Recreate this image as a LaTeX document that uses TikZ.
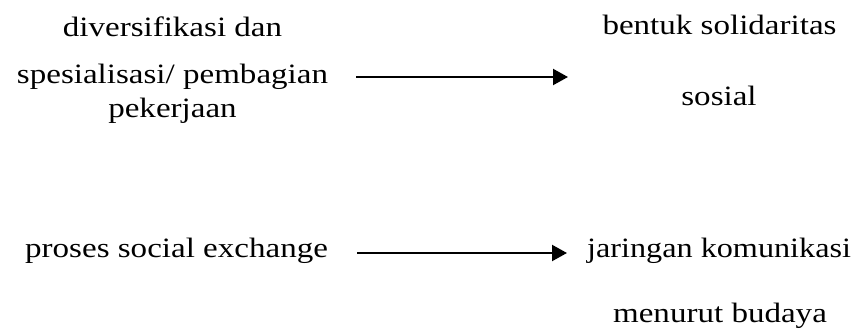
\documentclass[tikz,border=0pt]{standalone}
\usepackage{fontspec}
\setmainfont{Liberation Serif}
\usetikzlibrary{arrows.meta}
\newcommand{\wtxt}[1]{\scalebox{1.18}[1]{#1}}
\begin{document}
\begin{tikzpicture}[x=1pt,y=1pt,
  lbl/.style={inner sep=0pt,anchor=base,font=\fontsize{28}{34}\selectfont},
  lblw/.style={lbl,anchor=base west},
  conn/.style={line width=2.2pt,-{Triangle[length=15pt,width=16pt]}}]
\useasboundingbox (0,0) rectangle (856,330);
\node[lbl] (a1) at (172.5,293) {\wtxt{diversifikasi dan}};
\node[lbl] (a2) at (172.5,247) {\wtxt{spesialisasi/ pembagian}};
\node[lbl] (a3) at (172.5,213) {\wtxt{pekerjaan}};
\node[lbl] (b1) at (719.5,295) {\wtxt{bentuk solidaritas}};
\node[lbl] (b2) at (719,225) {\wtxt{sosial}};
\node[lblw] (c1) at (25,73) {\wtxt{proses social exchange}};
\node[lblw] (d1) at (587,73) {\scalebox{1.15}[1]{jaringan komunikasi}};
\node[lbl] (d2) at (720,8) {\wtxt{menurut budaya}};
\coordinate (s1) at (356,253);
\coordinate (e1) at (568,253);
\coordinate (s2) at (357,77);
\coordinate (e2) at (567,77);
\draw[conn] (s1) -- (e1);
\draw[conn] (s2) -- (e2);
\end{tikzpicture}
\end{document}
